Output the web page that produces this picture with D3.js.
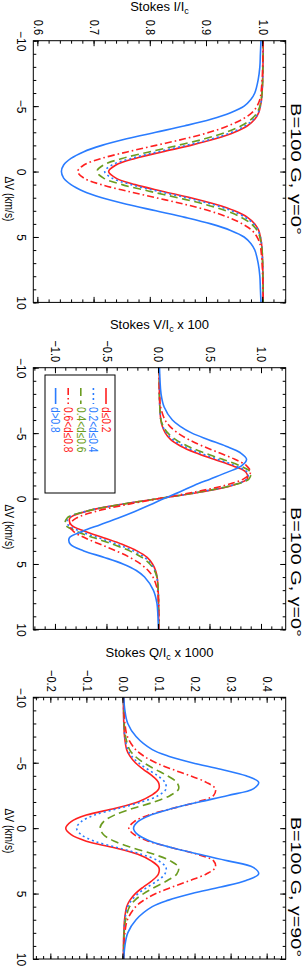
<!DOCTYPE html>
<html><head><meta charset="utf-8">
<script src="https://cdn.jsdelivr.net/npm/d3@7"></script>
<style>
html,body{margin:0;padding:0;background:#fff;}
svg{display:block;font-family:"Liberation Sans",Arial,Helvetica,sans-serif;}
</style></head><body>
<svg id="chart" width="303" height="966"></svg>
<script>
// ---------------- DATA ----------------
const dv = [-10,-9,-8,-7,-6,-5.5,-5,-4.5,-4,-3.5,-3,-2.5,-2,-1.5,-1,-0.5,0,0.5,1,1.5,2,2.5,3,3.5,4,4.5,5,5.5,6,7,8,9,10];

const seriesNames = ["d\u22640.2","0.2<d\u22640.4","0.4<d\u22640.6","0.6<d\u22640.8","d>0.8"];

// Stokes I/Ic
const I_d02   = [1.000,1.000,0.9995,0.999,0.998,0.997,0.995,0.992,0.985,0.972,0.949,0.915,0.871,0.820,0.772,0.738,0.725,0.738,0.772,0.820,0.871,0.915,0.949,0.972,0.985,0.992,0.995,0.997,0.998,0.999,0.9995,1.000,1.000];
const I_d02_04= [1.000,1.000,0.9995,0.999,0.998,0.997,0.995,0.991,0.983,0.968,0.944,0.909,0.863,0.812,0.765,0.731,0.718,0.731,0.765,0.812,0.863,0.909,0.944,0.968,0.983,0.991,0.995,0.997,0.998,0.999,0.9995,1.000,1.000];
const I_d04_06= [1.000,1.000,0.9995,0.999,0.998,0.996,0.994,0.989,0.979,0.961,0.934,0.896,0.848,0.797,0.749,0.716,0.704,0.716,0.749,0.797,0.848,0.896,0.934,0.961,0.979,0.989,0.994,0.996,0.998,0.999,0.9995,1.000,1.000];
const I_d06_08= [1.000,0.9995,0.999,0.998,0.996,0.994,0.989,0.980,0.963,0.938,0.904,0.860,0.809,0.758,0.712,0.681,0.670,0.681,0.712,0.758,0.809,0.860,0.904,0.938,0.963,0.980,0.989,0.994,0.996,0.998,0.999,0.9995,1.000];
const I_d08   = [0.996,0.995,0.994,0.991,0.985,0.978,0.966,0.942,0.907,0.861,0.809,0.757,0.713,0.680,0.658,0.645,0.641,0.645,0.658,0.680,0.713,0.757,0.809,0.861,0.907,0.942,0.966,0.978,0.985,0.991,0.994,0.995,0.996];

// Stokes V/Ic x 100
const V_d02   = [0.002,0.003,0.004,0.008,0.018,0.033,0.062,0.114,0.212,0.355,0.534,0.715,0.845,0.857,0.710,0.404,0,-0.410,-0.717,-0.866,-0.853,-0.722,-0.539,-0.358,-0.214,-0.115,-0.063,-0.033,-0.018,-0.008,-0.004,-0.003,-0.002];
const V_d02_04= [0.002,0.003,0.004,0.008,0.019,0.038,0.073,0.136,0.242,0.391,0.569,0.743,0.858,0.856,0.700,0.396,0,-0.408,-0.721,-0.882,-0.884,-0.765,-0.586,-0.403,-0.249,-0.140,-0.075,-0.039,-0.020,-0.008,-0.004,-0.003,-0.002];
const V_d04_06= [0.002,0.003,0.004,0.008,0.019,0.043,0.087,0.163,0.279,0.436,0.617,0.786,0.889,0.874,0.707,0.397,0,-0.405,-0.722,-0.893,-0.909,-0.803,-0.630,-0.445,-0.285,-0.167,-0.089,-0.044,-0.020,-0.008,-0.004,-0.003,-0.002];
const V_d06_08= [0.001,0.002,0.005,0.016,0.059,0.108,0.183,0.290,0.427,0.583,0.736,0.851,0.889,0.822,0.635,0.347,0,-0.340,-0.621,-0.803,-0.869,-0.832,-0.719,-0.570,-0.417,-0.283,-0.179,-0.105,-0.058,-0.015,-0.005,-0.002,-0.001];
const V_d08   = [0.005,0.01,0.02,0.05,0.13,0.21,0.32,0.48,0.65,0.79,0.85,0.80,0.66,0.50,0.34,0.20,0.05,-0.09,-0.24,-0.40,-0.57,-0.74,-0.87,-0.86,-0.73,-0.53,-0.35,-0.22,-0.14,-0.055,-0.02,-0.01,-0.005];

// Stokes Q/Ic x 1000
const Q_d02   = [0,0,0.001,0.003,0.009,0.018,0.033,0.055,0.080,0.097,0.098,0.077,0.040,-0.025,-0.103,-0.145,-0.160,-0.145,-0.103,-0.025,0.040,0.077,0.098,0.097,0.080,0.055,0.033,0.018,0.009,0.003,0.001,0,0];
const Q_d02_04= [0,0.0005,0.0015,0.004,0.012,0.023,0.041,0.067,0.095,0.115,0.118,0.097,0.050,-0.015,-0.080,-0.117,-0.130,-0.117,-0.080,-0.015,0.050,0.097,0.118,0.115,0.095,0.067,0.041,0.023,0.012,0.004,0.0015,0.0005,0];
const Q_d04_06= [0,0.001,0.002,0.006,0.017,0.032,0.056,0.088,0.122,0.148,0.153,0.130,0.085,0.025,-0.025,-0.055,-0.065,-0.055,-0.025,0.025,0.085,0.130,0.153,0.148,0.122,0.088,0.056,0.032,0.017,0.006,0.002,0.001,0];
const Q_d06_08= [0.0005,0.0015,0.004,0.011,0.034,0.057,0.090,0.135,0.185,0.230,0.255,0.250,0.205,0.135,0.070,0.030,0.015,0.030,0.070,0.135,0.205,0.250,0.255,0.230,0.185,0.135,0.090,0.057,0.034,0.011,0.004,0.0015,0.0005];
const Q_d08   = [0.001,0.004,0.012,0.035,0.080,0.125,0.190,0.270,0.340,0.375,0.360,0.290,0.210,0.135,0.075,0.040,0.028,0.040,0.075,0.135,0.210,0.290,0.360,0.375,0.340,0.270,0.190,0.125,0.080,0.035,0.012,0.004,0.001];

const xTicks = [-10,-5,0,5,10];
const yTicksI = [0.6,0.7,0.8,0.9,1.0];
const yTicksV = [-1.0,-0.5,0.0,0.5,1.0];
const yTicksQ = [-0.2,-0.1,0.0,0.1,0.2,0.3,0.4];
const yTitles = [["Stokes I/I","c",""],["Stokes V/I","c"," x 100"],["Stokes Q/I","c"," x 1000"]];
const annotations = ["B=100 G, \u03b3=0\u00b0","B=100 G, \u03b3=0\u00b0","B=100 G, \u03b3=90\u00b0"];
const xTitle = "\u0394V (km/s)";

// ---------------- STYLE / LAYOUT ----------------
const colors = ["#ff2020","#2a7cff","#6b9c20","#ff2020","#2a7cff"];
const dashes = [null,"2,3","8,4.5","7,3,1.6,3",null];
const W = 966, H = 303;
const pTop = 17.3, pBot = 269.7, pw = 261.7;
const panels = [
  {left:40.7,  series:[I_d02,I_d02_04,I_d04_06,I_d06_08,I_d08], dom:[0.591,1.040], ticks:yTicksI, minor:0.02, titleOff:-29.7, annStart:103, annLen:132, xtC:199},
  {left:367.7, series:[V_d02,V_d02_04,V_d04_06,V_d06_08,V_d08], dom:[-1.22,1.23], ticks:yTicksV, minor:0.1, titleOff:-39, annStart:507, annLen:130, xtC:527, legend:true},
  {left:697.3, series:[Q_d02,Q_d02_04,Q_d04_06,Q_d06_08,Q_d08], dom:[-0.25,0.45], ticks:yTicksQ, minor:0.02, titleOff:-40, annStart:817, annLen:140, xtC:831}
];
const fmtNum = d => (d < 0 ? "\u2212" : "") + Math.abs(d);
const fmtY = d => (d < -1e-9 ? "\u2212" : "") + Math.abs(d).toFixed(1);
const ySX = 0.85;

const svg = d3.select("#chart");
const defs = svg.append("defs");
const root = svg.append("g").attr("transform", `translate(${H},0) rotate(90)`);

panels.forEach((p, pi) => {
  const x = d3.scaleLinear().domain([-10,10]).range([p.left, p.left + pw]);
  const y = d3.scaleLinear().domain(p.dom).range([pBot, pTop]);
  const g = root.append("g");

  defs.append("clipPath").attr("id","clip"+pi).append("rect")
    .attr("x", p.left).attr("y", pTop).attr("width", pw).attr("height", pBot - pTop);

  // curves
  const line = d3.line().x((d,i) => x(dv[i])).y(d => y(d)).curve(d3.curveCatmullRom.alpha(0.5));
  const lg = g.append("g").attr("clip-path", `url(#clip${pi})`);
  p.series.forEach((s, si) => {
    lg.append("path").attr("d", line(s)).attr("fill","none")
      .attr("stroke", colors[si]).attr("stroke-width", 1.6)
      .attr("stroke-dasharray", dashes[si]);
  });

  // ticks
  const xMinor = d3.range(-10, 11, 1);
  const yMinor = d3.range(Math.ceil(p.dom[0]/p.minor - 1e-6), Math.floor(p.dom[1]/p.minor + 1e-6) + 1).map(k => +(k*p.minor).toFixed(4));
  const addAxis = (axis, tr) => {
    const a = g.append("g").attr("transform", tr).call(axis);
    a.select(".domain").remove();
    a.selectAll("line").attr("stroke","#000").attr("stroke-width",1);
    return a;
  };
  addAxis(d3.axisBottom(x).tickValues(xMinor).tickSizeInner(-3).tickSizeOuter(0).tickFormat(""), `translate(0,${pBot})`);
  addAxis(d3.axisTop(x).tickValues(xMinor).tickSizeInner(-3).tickSizeOuter(0).tickFormat(""), `translate(0,${pTop})`);
  addAxis(d3.axisLeft(y).tickValues(yMinor).tickSizeInner(-3).tickSizeOuter(0).tickFormat(""), `translate(${p.left},0)`);
  addAxis(d3.axisRight(y).tickValues(yMinor).tickSizeInner(-3).tickSizeOuter(0).tickFormat(""), `translate(${p.left+pw},0)`);
  const xb = addAxis(d3.axisBottom(x).tickValues(xTicks).tickSizeInner(-5.5).tickSizeOuter(0).tickPadding(8).tickFormat(fmtNum), `translate(0,${pBot})`);
  xb.selectAll("text").attr("font-size", 12).attr("fill","#000");
  addAxis(d3.axisTop(x).tickValues(xTicks).tickSizeInner(-5.5).tickSizeOuter(0).tickFormat(""), `translate(0,${pTop})`);
  const yl = addAxis(d3.axisLeft(y).tickValues(p.ticks).tickSizeInner(-5.5).tickSizeOuter(0).tickPadding(5.5).tickFormat(fmtY), `translate(${p.left},0)`);
  yl.selectAll("text").attr("font-size", 13).attr("fill","#000")
    .attr("x", -5.5/ySX).attr("transform", `scale(${ySX},1)`);
  addAxis(d3.axisRight(y).tickValues(p.ticks).tickSizeInner(-5.5).tickSizeOuter(0).tickFormat(""), `translate(${p.left+pw},0)`);
  g.selectAll(".tick text").attr("font-family", null);

  // frame
  g.append("rect").attr("x", p.left).attr("y", pTop).attr("width", pw).attr("height", pBot - pTop)
    .attr("fill","none").attr("stroke","#000").attr("stroke-width",1);

  // y title
  const t = yTitles[pi];
  const yt = g.append("text")
    .attr("transform", `translate(${p.left + p.titleOff},${(pTop+pBot)/2}) rotate(-90)`)
    .attr("text-anchor","middle").attr("font-size",13).attr("fill","#000");
  yt.append("tspan").text(t[0]);
  yt.append("tspan").attr("dy",3).attr("font-size",9).text(t[1]);
  yt.append("tspan").attr("dy",-3).text(t[2]);

  // x title
  g.append("text").attr("x", p.xtC).attr("y", 298.5).attr("text-anchor","middle")
    .attr("font-size",13).attr("fill","#000")
    .attr("textLength",45).attr("lengthAdjust","spacingAndGlyphs").text(xTitle);

  // annotation
  g.append("text").attr("x", p.annStart).attr("y", 12.5).attr("font-size",14).attr("fill","#000")
    .attr("textLength", p.annLen).attr("lengthAdjust","spacingAndGlyphs").text(annotations[pi]);

  // legend
  if (p.legend) {
    const bx = p.left + 7.3, by = 188, bw = 118, bh = 70;
    const leg = g.append("g");
    leg.append("rect").attr("x",bx).attr("y",by).attr("width",bw).attr("height",bh)
      .attr("fill","#fff").attr("stroke","#000").attr("stroke-width",1);
    seriesNames.forEach((nm, si) => {
      const ry = by + 9 + si*12.6;
      leg.append("line").attr("x1",bx+13).attr("x2",bx+29).attr("y1",ry).attr("y2",ry)
        .attr("stroke",colors[si]).attr("stroke-width",1.6).attr("stroke-dasharray",dashes[si]);
      leg.append("g").attr("transform",`translate(${bx+32},${ry}) scale(0.85,1)`)
        .append("text").attr("x",0).attr("y",0).attr("dy","0.35em")
        .attr("font-size",12).attr("fill",colors[si]).text(nm);
    });
  }
});
</script>
</body></html>
